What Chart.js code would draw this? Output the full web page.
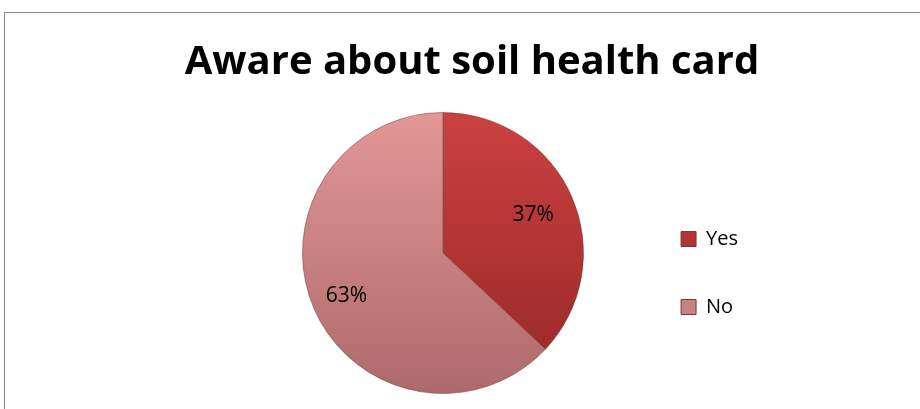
<!DOCTYPE html>
<html>
<head>
<meta charset="utf-8">
<script src="https://cdn.jsdelivr.net/npm/chart.js@4"></script>
<style>
  html, body { margin: 0; padding: 0; background: #fff; overflow: hidden; }
  #frame { position: absolute; left: 4px; top: 12px; width: 940px; height: 420px; border: 1px solid #8a8a8a; }
  #wrap { position: absolute; left: 0; top: 0; width: 920px; height: 409px; }
</style>
</head>
<body>
<div id="frame"></div>
<div id="wrap"><canvas id="pie"></canvas></div>
<script>
const labels = ["Yes", "No"];
const shares = [37, 63];
const topColors = ["#cb4140", "#e39797"];
const bottomColors = ["#962727", "#ad6a6a"];
const legendColors = ["#b13434", "#c98282"];
const labelRadius = [0.70, 0.75];

// the heading sits centred on the whole frame, not on the plot + legend block
const TITLE_CENTER_X = 472;
const TITLE_WIDTH = 860;

function sliceFill(ctx) {
    const area = ctx.chart.chartArea;
    const i = ctx.dataIndex;
    if (!area) return topColors[i];
    const g = ctx.chart.ctx.createLinearGradient(0, area.top, 0, area.bottom);
    g.addColorStop(0, topColors[i]);
    g.addColorStop(1, bottomColors[i]);
    return g;
}

// percentage text inside each slice
const sliceLabels = {
    id: "sliceLabels",
    afterDatasetsDraw(chart) {
        const c = chart.ctx;
        const total = shares.reduce((a, b) => a + b, 0);
        chart.getDatasetMeta(0).data.forEach((arc, i) => {
            const mid = (arc.startAngle + arc.endAngle) / 2;
            const r = arc.outerRadius * labelRadius[i];
            c.save();
            c.font = "21px 'Open Sans'";
            c.fillStyle = "#000";
            c.textAlign = "center";
            c.textBaseline = "middle";
            c.fillText(Math.round(shares[i] / total * 100) + "%", arc.x + Math.cos(mid) * r, arc.y + Math.sin(mid) * r + 1);
            c.restore();
        });
    }
};

// widen the title box so the heading is not squeezed into the plot width
const centerTitle = {
    id: "centerTitle",
    afterLayout(chart) {
        const t = chart.titleBlock;
        t.left = TITLE_CENTER_X - TITLE_WIDTH / 2;
        t.right = TITLE_CENTER_X + TITLE_WIDTH / 2;
        t.width = TITLE_WIDTH;
    }
};

new Chart(document.getElementById("pie"), {
    type: "pie",
    data: {
        labels: labels,
        datasets: [{
            data: shares,
            backgroundColor: sliceFill,
            borderColor: "rgba(120,60,60,0.55)",
            borderWidth: 1
        }]
    },
    options: {
        responsive: true,
        maintainAspectRatio: false,
        animation: false,
        layout: { padding: { left: 253, right: 172, top: 0, bottom: 15 } },
        plugins: {
            tooltip: { enabled: false },
            title: {
                display: true,
                text: "Aware about soil health card",
                color: "#000",
                font: { family: "'Open Sans'", size: 40, weight: "bold", lineHeight: 1.2 },
                padding: { top: 39, bottom: 25 }
            },
            legend: {
                position: "right",
                title: { display: true, text: " ", font: { size: 1, lineHeight: 1 }, padding: { top: 151, bottom: 0 } },
                labels: {
                    color: "#000",
                    font: { family: "'Open Sans'", size: 20 },
                    boxWidth: 15,
                    boxHeight: 15,
                    padding: 48,
                    generateLabels: (chart) => labels.map((t, i) => ({
                        text: t,
                        fillStyle: legendColors[i],
                        strokeStyle: "#7a3a3a",
                        fontColor: "#000",
                        lineWidth: 1,
                        index: i
                    }))
                }
            }
        }
    },
    plugins: [sliceLabels, centerTitle]
});
</script>
</body>
</html>
